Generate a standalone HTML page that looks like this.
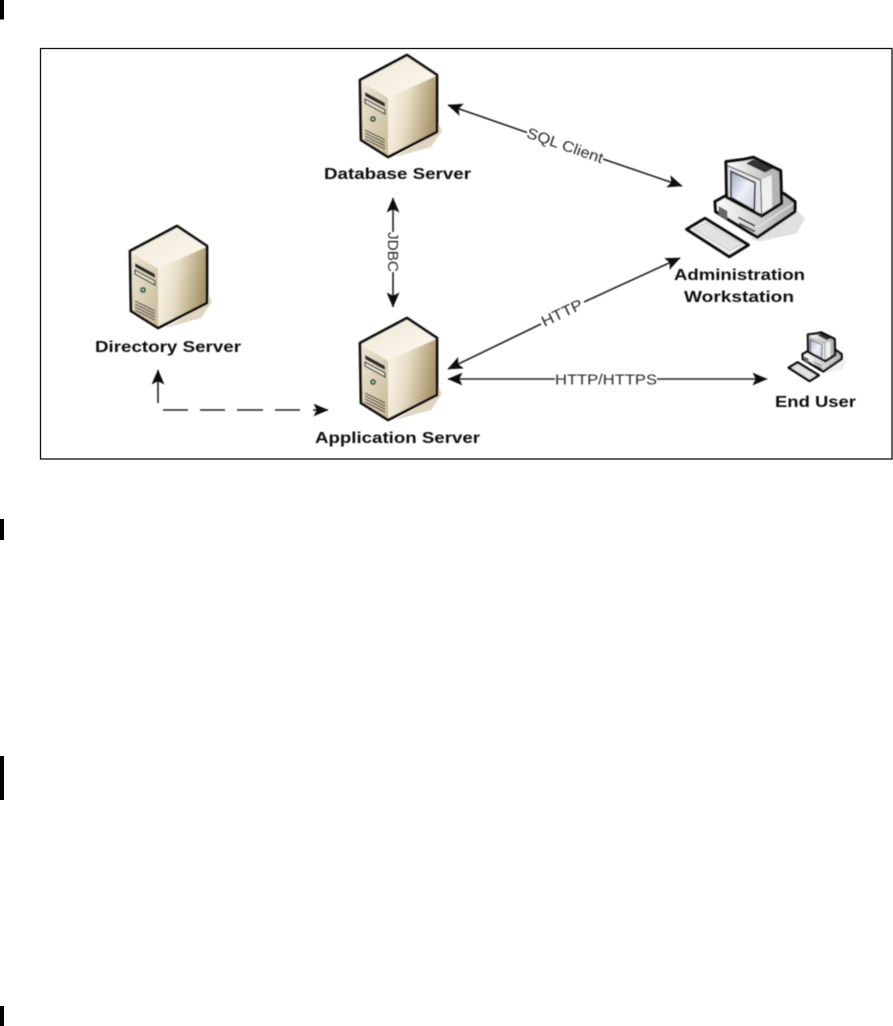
<!DOCTYPE html>
<html><head><meta charset="utf-8"><style>
html,body{margin:0;padding:0;background:#fff}
svg{display:block}
text{font-family:"Liberation Sans",Arial,sans-serif}
.b{font-weight:bold;font-size:16px;fill:#111}
.r{font-size:15px;fill:#2a2a2a}
.pco{stroke:#111;stroke-width:var(--s);stroke-linejoin:round}
</style></head><body>
<svg width="893" height="1026" viewBox="0 0 893 1026" xmlns="http://www.w3.org/2000/svg">
<defs>
<linearGradient id="side" x1="0" y1="0" x2="1" y2="0.25"><stop offset="0" stop-color="#fbf7ea"/><stop offset=".45" stop-color="#e8dfc8"/><stop offset="1" stop-color="#a8946a"/></linearGradient>
<linearGradient id="front" x1="0" y1="0" x2="1" y2="1"><stop offset="0" stop-color="#efe9d8"/><stop offset="1" stop-color="#c8b995"/></linearGradient>
<linearGradient id="top" x1="0" y1="0" x2="1" y2="1"><stop offset="0" stop-color="#eee8d6"/><stop offset="1" stop-color="#fcf9f0"/></linearGradient>
<linearGradient id="scr" x1="0" y1="0" x2="1" y2="1"><stop offset="0" stop-color="#9fa9c4"/><stop offset=".5" stop-color="#eef1f8"/><stop offset="1" stop-color="#c4cce0"/></linearGradient>
<linearGradient id="gs" x1="0" y1="0" x2="1" y2="0"><stop offset="0" stop-color="#fff"/><stop offset="1" stop-color="#aaa"/></linearGradient>
<marker id="a" viewBox="0 0 14 12" refX="13.5" refY="6" markerWidth="15" markerHeight="13" markerUnits="userSpaceOnUse" orient="auto-start-reverse"><path d="M0 0L14 6L0 12L3 6Z" fill="#111"/></marker>
<filter id="bl" x="-5%" y="-5%" width="110%" height="110%"><feGaussianBlur stdDeviation="0.5"/></filter>
<g id="server">
<path d="M30 64L35 76L24 92L-12 102L30 77Z" fill="#e0d6bf"/>
<path d="M-47 25L0 0L30 20L-19 42Z" fill="url(#top)"/>
<path d="M-19 42L30 20L30 77L-19 102Z" fill="url(#side)"/>
<path d="M-47 25L-19 42L-19 102L-46 85Z" fill="url(#front)"/>
<path d="M-47 25L-19 42L30 20" fill="none" stroke="#f7f2e4" stroke-width="1.5"/>
<path d="M-47 25L0 0L30 20L30 77L-19 102L-46 85Z" fill="none" stroke="#111" stroke-width="2.8" stroke-linejoin="round"/>
<path d="M-42 37L-22 48L-22 52L-42 41Z" fill="#2a2a2a"/>
<path d="M-42 44L-22 55L-22 59L-42 48Z" fill="#e8e2d2" stroke="#333" stroke-width="1.2"/>
<circle cx="-34" cy="64" r="3" fill="#2f5d45"/><circle cx="-34" cy="64" r="1" fill="#dfeee2"/>
<path d="M-42 75L-22 85M-42 78L-22 88M-42 81L-22 91M-42 84L-22 94" stroke="#444" stroke-width="1.2"/>
</g>
<g id="pc">
<path d="M370 200L405 235L380 280L265 305L240 295Z" fill="#e0e0e0" style="opacity:var(--o)"/>
<path d="M135 185L180 160L340 160L375 185L375 215L262 292L137 215Z" fill="url(#gs)"/>
<path d="M137 188L262 262L375 188" fill="none" stroke="#eee" stroke-width="3"/>
<path class="pco" d="M135 185L180 160L340 160L375 185L375 215L262 292L137 215Z" fill="none"/>
<path d="M146 198L172 213L172 240L146 224Z" fill="#666"/>
<path d="M205 232L255 258M208 250L255 275" stroke="#333" stroke-width="5"/>
<path d="M168 65L222 58L250 52L332 92L335 190L275 228L170 172Z" fill="url(#gs)"/>
<path d="M168 75L272 120L275 228L170 172Z" fill="#e4e4e4"/>
<path d="M272 120L332 92L335 190L275 228Z" fill="#b4b4b4"/>
<path d="M272 120L305 105L307 205L275 228Z" fill="#efefef"/>
<path d="M250 58L310 85L285 98L228 70Z" fill="#333"/>
<path d="M183 94L255 128L253 212L183 172Z" fill="url(#scr)" stroke="#333" stroke-width="5"/>
<path class="pco" d="M168 65L222 58L250 52L332 92L335 190L275 228L170 172Z" fill="none"/>
<path d="M168 75L272 120L275 228" fill="none" stroke="#333" stroke-width="3"/>
<path class="pco" d="M50 268L105 235L235 315L178 350Z" fill="#f2f2f2"/>
<path d="M72 268L108 248L215 313L178 333Z" fill="#e2e2e2" stroke="#bbb" stroke-width="2"/>
</g>
</defs>

<g fill="#000">
<rect x="0" y="0" width="4" height="19.5"/>
<rect x="0" y="519" width="4" height="21"/>
<rect x="0" y="756" width="4" height="44"/>
<rect x="0" y="1006" width="4" height="20"/>
</g>
<rect x="40.5" y="48.5" width="851.5" height="410.5" fill="#fff" stroke="#111" stroke-width="1.3"/>

<g filter="url(#bl)">
<use href="#server" x="407" y="55"/>
<use href="#server" x="407" y="318"/>
<use href="#server" x="177" y="226"/>
<g transform="translate(670,140) scale(.3333)" style="--s:9.5;--o:1"><use href="#pc"/></g>
<g transform="translate(780.5,324) scale(.163)" style="--s:15;--o:.5"><use href="#pc"/></g>

<g fill="none" stroke="#222" stroke-width="1.6">
<path d="M448 105L527 132.5" marker-start="url(#a)"/>
<path d="M603 159L682 186" marker-end="url(#a)"/>
<path d="M393 198V232" marker-start="url(#a)"/>
<path d="M393 272V307" marker-end="url(#a)"/>
<path d="M448 369L541 324" marker-start="url(#a)"/>
<path d="M584 302L680 258" marker-end="url(#a)"/>
<path d="M448 379H555" marker-start="url(#a)"/>
<path d="M657 379H767" marker-end="url(#a)"/>
<path d="M158 403V370" marker-end="url(#a)"/>
<path d="M163 410H188M200 410H225M237 410H263M275 410H300"/>
<path d="M313 410H328" marker-end="url(#a)"/>
</g>

<text class="b" x="324" y="179" textLength="147" lengthAdjust="spacingAndGlyphs">Database Server</text>
<text class="b" x="95" y="352" textLength="146" lengthAdjust="spacingAndGlyphs">Directory Server</text>
<text class="b" x="315" y="443" textLength="165" lengthAdjust="spacingAndGlyphs">Application Server</text>
<text class="b" x="674" y="280" textLength="131" lengthAdjust="spacingAndGlyphs">Administration</text>
<text class="b" x="684" y="302" textLength="110" lengthAdjust="spacingAndGlyphs">Workstation</text>
<text class="b" x="775" y="407" textLength="81" lengthAdjust="spacingAndGlyphs">End User</text>

<text class="r" transform="translate(565,145.5) rotate(19.2)" x="-40" y="5" textLength="80" lengthAdjust="spacingAndGlyphs">SQL Client</text>
<text class="r" transform="translate(393,252) rotate(90)" x="-20" y="5" textLength="40" lengthAdjust="spacingAndGlyphs">JDBC</text>
<text class="r" transform="translate(562,313) rotate(-25.6)" x="-22" y="5" textLength="44" lengthAdjust="spacingAndGlyphs">HTTP</text>
<text class="r" x="555" y="384.5" textLength="102" lengthAdjust="spacingAndGlyphs">HTTP/HTTPS</text>
</g>
</svg>
</body></html>
